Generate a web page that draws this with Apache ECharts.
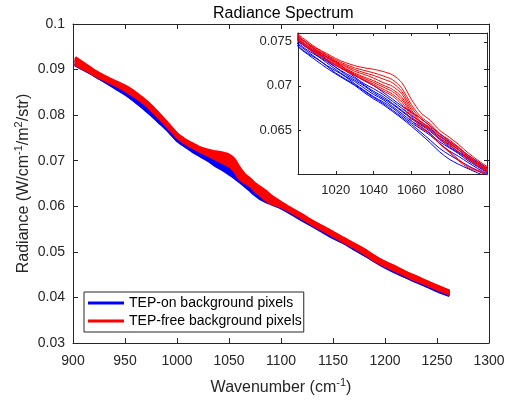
<!DOCTYPE html>
<html>
<head>
<meta charset="utf-8">
<script src="https://cdn.jsdelivr.net/npm/echarts@6/dist/echarts.min.js"></script>
<style>html,body{margin:0;padding:0;background:#fff}#c{width:521px;height:401px}</style>
</head>
<body>
<div id="c"></div>
<script>
// Wavenumber grid (cm^-1)
const wn = [902,912,922,932,942,952,962,972,982,992,1000,1005,1010,1015,1020,1025,1030,1035,1040,1045,1050,1055,1060,1065,1070,1075,1080,1085,1090,1095,1100,1110,1120,1130,1140,1150,1160,1170,1180,1190,1200,1210,1220,1230,1240,1250,1262];
// Radiance values in units of 1e-5 W/cm^-1/m^2/str
// TEP-on background pixels (blue)
const blue1 = [9230,9090,8930,8795,8670,8540,8365,8165,7965,7755,7560,7485,7402,7335,7270,7195,7120,7060,7003,6928,6850,6770,6702,6630,6543,6455,6373,6295,6215,6143,6070,5930,5805,5660,5540,5415,5285,5160,5035,4890,4755,4650,4545,4435,4340,4240,4125];
const blue2 = [9200,9050,8915,8785,8640,8510,8345,8150,7940,7730,7540,7455,7387,7305,7235,7175,7100,7025,6968,6903,6825,6745,6662,6595,6513,6425,6353,6275,6195,6128,6055,5915,5780,5655,5525,5390,5275,5150,5010,4875,4750,4630,4525,4430,4325,4220,4115];
const blue3 = [9165,9025,8885,8770,8630,8485,8325,8140,7925,7715,7520,7435,7372,7295,7210,7145,7085,7010,6938,6878,6800,6720,6637,6570,6498,6405,6333,6250,6180,6113,6040,5900,5775,5630,5510,5385,5255,5130,5005,4855,4730,4625,4510,4405,4315,4210,4100];
const blue4 = [9140,9005,8885,8755,8615,8480,8315,8115,7915,7705,7505,7430,7347,7280,7210,7130,7065,7000,6923,6858,6790,6710,6627,6555,6483,6390,6308,6240,6170,6093,6030,5885,5760,5630,5495,5370,5255,5115,4990,4855,4715,4610,4505,4400,4295,4200,4085];
const blue5 = [9125,8995,8870,8740,8600,8455,8295,8110,7895,7685,7490,7405,7342,7265,7185,7110,7050,6975,6903,6843,6765,6685,6602,6535,6453,6365,6298,6230,6150,6083,6015,5875,5740,5615,5485,5350,5235,5110,4970,4835,4710,4595,4480,4385,4290,4185,4075];
const blue6 = [9120,9000,8850,8725,8595,8445,8270,8090,7880,7670,7475,7390,7312,7235,7170,7105,7025,6950,6878,6818,6750,6665,6582,6510,6438,6345,6263,6200,6130,6063,6000,5860,5725,5600,5470,5340,5220,5085,4960,4825,4690,4575,4470,4375,4270,4170,4060];
const blue7 = [9110,8990,8865,8725,8590,8435,8260,8075,7870,7650,7455,7370,7307,7230,7145,7080,7015,6940,6868,6803,6725,6645,6562,6475,6383,6290,6218,6155,6095,6038,5980,5845,5710,5585,5455,5320,5210,5075,4940,4805,4680,4565,4450,4360,4255,4155,4050];
const blue8 = [9100,8980,8860,8720,8575,8440,8270,8070,7860,7650,7445,7360,7282,7205,7135,7070,7005,6925,6853,6788,6710,6630,6542,6450,6353,6250,6168,6110,6060,6013,5965,5835,5700,5575,5445,5310,5200,5065,4940,4795,4665,4550,4450,4345,4250,4145,4040];
// TEP-free background pixels (red)
const red1 = [9265,9110,8955,8835,8725,8615,8460,8275,8045,7795,7590,7505,7427,7370,7310,7265,7230,7205,7188,7163,7125,7035,6847,6695,6608,6495,6418,6335,6240,6158,6085,5945,5820,5675,5555,5430,5300,5175,5050,4900,4775,4670,4550,4455,4350,4255,4140];
const red2 = [9240,9090,8940,8820,8715,8600,8440,8265,8030,7780,7580,7485,7422,7355,7295,7245,7205,7175,7148,7113,7070,6970,6787,6650,6568,6460,6388,6305,6210,6138,6065,5930,5795,5670,5540,5405,5295,5160,5025,4895,4760,4645,4540,4445,4335,4240,4130];
const red3 = [9210,9065,8920,8810,8685,8570,8425,8240,8010,7770,7570,7475,7407,7350,7280,7230,7185,7150,7118,7078,7035,6935,6757,6625,6548,6440,6368,6295,6200,6118,6055,5915,5790,5650,5530,5395,5280,5145,5020,4875,4750,4635,4530,4425,4330,4225,4115];
const red4 = [9190,9055,8905,8795,8685,8560,8405,8230,8010,7760,7560,7475,7397,7330,7270,7220,7165,7130,7088,7038,6995,6905,6727,6595,6528,6430,6358,6275,6190,6118,6045,5910,5775,5645,5525,5390,5265,5140,5015,4870,4735,4630,4525,4420,4315,4220,4110];
const red5 = [9170,9035,8900,8780,8675,8550,8395,8220,7990,7750,7550,7455,7387,7330,7260,7200,7145,7100,7058,7008,6960,6870,6702,6580,6513,6405,6343,6270,6175,6103,6035,5900,5775,5635,5505,5380,5265,5130,4995,4860,4735,4620,4505,4410,4315,4210,4100];
const red6 = [9145,9015,8885,8775,8665,8540,8385,8210,7990,7740,7540,7445,7377,7320,7250,7190,7135,7085,7038,6988,6935,6845,6682,6565,6503,6395,6323,6250,6165,6093,6025,5895,5760,5620,5505,5370,5245,5125,4990,4845,4725,4610,4495,4405,4300,4200,4095];
const red7 = [9130,9005,8875,8765,8655,8525,8380,8205,7970,7730,7530,7435,7367,7300,7240,7180,7125,7070,7018,6963,6905,6815,6652,6540,6463,6345,6258,6165,6085,6043,6000,5880,5745,5620,5490,5355,5245,5110,4975,4845,4710,4595,4495,4390,4290,4195,4085];
const red8 = [9115,8995,8865,8755,8645,8515,8370,8185,7965,7715,7520,7425,7357,7290,7230,7170,7115,7060,7003,6943,6885,6785,6607,6520,6458,6340,6248,6150,6070,6033,5990,5870,5745,5600,5480,5355,5225,5100,4965,4810,4690,4595,4480,4375,4285,4180,4075];

const blueLines = [blue1, blue2, blue3, blue4, blue5, blue6, blue7, blue8];
const redLines = [red1, red2, red3, red4, red5, red6, red7, red8];
const nameOn = 'TEP-on background pixels';
const nameFree = 'TEP-free background pixels';

// Tick settings
const mainXTicks = {min: 900, max: 1300, interval: 50};
const mainYTicks = {min: 0.03, max: 0.1, interval: 0.01};
const insetXTicks = {min: 1000, max: 1100, interval: 20};
const insetYTicks = {min: 0.06, max: 0.076, interval: 0.005};

const FONT = '"Liberation Sans", Arial, Helvetica, sans-serif';
const AX = '#262626';

function pts(vals) { return wn.map((x, i) => [x, vals[i] / 1e5]); }
function plainNum(v) { return String(+v.toPrecision(6)); }

function axis(gridIndex, ticks, position, showLabel, fontSize, tickLen, margin, extra) {
  return Object.assign({
    type: 'value', gridIndex, position,
    min: ticks.min, max: ticks.max, interval: ticks.interval,
    axisLine: {show: true, onZero: false, lineStyle: {color: AX, width: 1}},
    axisTick: {show: true, inside: true, length: tickLen, lineStyle: {color: AX}},
    axisLabel: {show: showLabel, fontSize, color: AX, fontFamily: FONT, margin, formatter: plainNum},
    splitLine: {show: false}
  }, extra || {});
}

const series = [];
function addSeries(lines, name, color, xi, yi, width) {
  lines.forEach(v => series.push({
    type: 'line', name, xAxisIndex: xi, yAxisIndex: yi, data: pts(v),
    showSymbol: false, symbol: 'none', smooth: 0.3, silent: true,
    lineStyle: {width, color}, itemStyle: {color}, animation: false
  }));
}
addSeries(blueLines, nameOn, '#0000ff', 0, 0, 3);
addSeries(redLines, nameFree, '#ff0000', 0, 0, 3);
addSeries(blueLines, nameOn, '#0000ff', 2, 2, 1);
addSeries(redLines, nameFree, '#ff0000', 2, 2, 1);

const supRich = {sup: {fontSize: 11, lineHeight: 12, verticalAlign: 'top', fontFamily: FONT, color: AX}};

const option = {
  animation: false,
  backgroundColor: '#fff',
  textStyle: {fontFamily: FONT},
  title: {text: 'Radiance Spectrum', left: 208, top: 1,
    textStyle: {fontSize: 16, fontWeight: 'normal', color: '#000', fontFamily: FONT}},
  legend: {
    orient: 'vertical', left: 84, top: 292, itemWidth: 36, itemHeight: 3, itemGap: 2,
    padding: [3, 2, 3, 4], borderColor: AX, borderWidth: 1, backgroundColor: '#fff',
    selectedMode: false,
    textStyle: {fontSize: 14, color: '#000', lineHeight: 16, fontFamily: FONT},
    data: [{name: nameOn, icon: 'rect'}, {name: nameFree, icon: 'rect'}]
  },
  grid: [
    {left: 73, right: 32, top: 24, bottom: 58, containLabel: false, outerBoundsMode: 'none'},
    {left: 298, right: 34, top: 33, bottom: 227, show: true, backgroundColor: '#fff', borderWidth: 0,
     containLabel: false, outerBoundsMode: 'none'}
  ],
  xAxis: [
    axis(0, mainXTicks, 'bottom', true, 14, 5, 11, {
      name: 'Wavenumber (cm{sup|-1})', nameLocation: 'middle', nameGap: 34, nameMoveOverlap: false,
      nameTextStyle: {fontSize: 16, color: AX, lineHeight: 22, fontFamily: FONT, rich: supRich}
    }),
    axis(0, mainXTicks, 'top', false, 14, 5, 8),
    axis(1, insetXTicks, 'bottom', true, 13, 3, 10),
    axis(1, insetXTicks, 'top', false, 13, 3, 8)
  ],
  yAxis: [
    axis(0, mainYTicks, 'left', true, 14, 5, 8, {
      name: 'Radiance (W/cm{sup|-1}/m{sup|2}/str)', nameLocation: 'middle', nameGap: 38, nameMoveOverlap: false,
      nameTextStyle: {fontSize: 16, color: AX, lineHeight: 22, fontFamily: FONT, rich: supRich}
    }),
    axis(0, mainYTicks, 'right', false, 14, 5, 8),
    axis(1, insetYTicks, 'left', true, 13, 3, 6),
    axis(1, insetYTicks, 'right', false, 13, 3, 6)
  ],
  series
};
option.xAxis[2].axisLabel.showMinLabel = false;
option.xAxis[2].axisLabel.showMaxLabel = false;
option.yAxis[2].axisLabel.showMinLabel = false;
option.yAxis[2].axisLabel.showMaxLabel = false;

const chart = echarts.init(document.getElementById('c'), null, {renderer: 'canvas'});
chart.setOption(option);
</script>
</body>
</html>
